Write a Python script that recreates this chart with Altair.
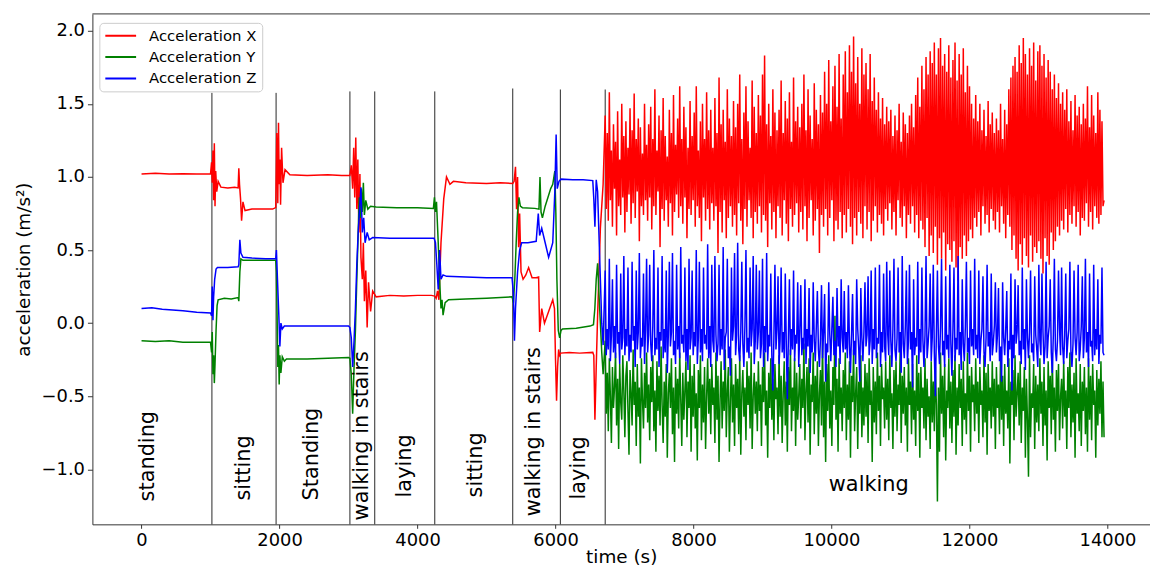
import altair as alt
import pandas as pd

series_names = ["Acceleration X", "Acceleration Y", "Acceleration Z"]
series_colors = ["#ff0000", "#008000", "#0000ff"]

# resting / transition part of the recording: (time s, acceleration m/s^2)
x_static = [
    (0, 1.02), (200, 1.025), (400, 1.02), (600, 1.022), (800, 1.02), (1000, 1.02),
    (1015, 1.10), (1025, 0.96), (1035, 1.18), (1045, 0.84), (1055, 1.23), (1065, 0.80),
    (1075, 1.04), (1090, 0.90), (1110, 0.97), (1150, 0.93), (1250, 0.925), (1350, 0.93),
    (1400, 0.925), (1410, 1.06), (1420, 0.95), (1435, 0.85), (1450, 0.70), (1470, 0.83),
    (1500, 0.77), (1600, 0.78), (1750, 0.78), (1900, 0.78), (1945, 0.79), (1960, 1.30),
    (1975, 0.82), (1985, 1.37), (1995, 0.95), (2005, 1.12), (2015, 0.81), (2030, 1.20),
    (2050, 0.96), (2080, 1.05), (2150, 1.015), (2400, 1.01), (2700, 1.015), (2900, 1.01),
    (3020, 1.01), (3040, 1.08), (3060, 0.92), (3075, 1.20), (3090, 0.86), (3105, 1.27),
    (3120, 0.78), (3135, 1.12), (3150, 0.62), (3165, 1.02), (3180, 0.45), (3200, 0.30),
    (3215, 0.55), (3230, 0.15), (3250, 0.36), (3270, -0.03), (3290, 0.28), (3320, 0.08),
    (3350, 0.22), (3400, 0.18), (3600, 0.19), (3800, 0.185), (4000, 0.19), (4200, 0.19),
    (4250, 0.185), (4270, 0.17), (4290, 0.22), (4310, 0.16), (4340, 0.55), (4380, 0.85),
    (4420, 1.00), (4470, 0.95), (4520, 0.97), (4700, 0.96), (5000, 0.955), (5200, 0.96),
    (5380, 0.955), (5400, 0.97), (5420, 1.07), (5435, 0.78), (5450, 1.00), (5465, 0.52),
    (5480, 0.75), (5500, 0.35), (5530, 0.30), (5570, 0.33), (5610, 0.38), (5660, 0.31),
    (5720, 0.31), (5755, 0.315), (5770, -0.06), (5800, 0.10), (5840, 0.00), (5900, 0.08),
    (5960, 0.16), (5985, 0.10), (6000, -0.25), (6015, -0.53), (6030, -0.30), (6045, -0.18),
    (6060, -0.22), (6075, -0.205), (6200, -0.20), (6350, -0.205), (6540, -0.20),
    (6555, -0.22), (6571, -0.66), (6590, -0.30), (6610, 0.05), (6630, 0.35), (6650, 0.65),
    (6670, 0.80), (6690, 0.95),
]
y_static = [
    (0, -0.12), (200, -0.125), (400, -0.12), (500, -0.125), (600, -0.13), (800, -0.13),
    (1000, -0.13), (1015, -0.20), (1025, -0.06), (1035, -0.35), (1045, -0.22), (1055, -0.41),
    (1065, -0.28), (1080, -0.05), (1095, 0.12), (1110, 0.16), (1200, 0.17), (1300, 0.165),
    (1400, 0.175), (1410, 0.15), (1425, 0.35), (1440, 0.44), (1470, 0.43), (1600, 0.43),
    (1800, 0.43), (1945, 0.43), (1955, 0.35), (1965, 0.05), (1975, -0.30), (1985, -0.15),
    (1995, -0.42), (2005, -0.22), (2020, -0.34), (2040, -0.23), (2070, -0.26), (2100, -0.245),
    (2400, -0.245), (2700, -0.24), (3000, -0.235), (3020, -0.24), (3040, -0.35), (3060, -0.62),
    (3080, -0.30), (3100, -0.05), (3120, 0.30), (3140, 0.62), (3155, 0.86), (3170, 0.72),
    (3185, 0.92), (3200, 0.76), (3215, 0.96), (3230, 0.74), (3250, 0.84), (3280, 0.78),
    (3320, 0.80), (3400, 0.795), (3700, 0.79), (4000, 0.79), (4230, 0.785), (4245, 0.86),
    (4260, 0.76), (4275, 0.83), (4300, 0.55), (4320, 0.30), (4340, 0.10), (4355, 0.16),
    (4370, 0.055), (4400, 0.14), (4450, 0.16), (4700, 0.165), (5000, 0.17), (5370, 0.18),
    (5390, 0.14), (5410, 0.30), (5430, 0.55), (5450, 0.76), (5470, 0.86), (5490, 0.80),
    (5520, 0.79), (5700, 0.785), (5760, 0.78), (5775, 1.00), (5790, 0.76), (5810, 0.72),
    (5850, 0.80), (5890, 0.86), (5930, 0.92), (5960, 0.95), (5990, 1.04), (6005, 0.75),
    (6020, 0.30), (6040, -0.05), (6060, -0.10), (6080, -0.05), (6100, -0.04), (6300, -0.035),
    (6500, -0.02), (6550, -0.01), (6570, 0.10), (6590, 0.30), (6610, 0.41), (6630, 0.20),
    (6650, 0.00), (6670, -0.20), (6690, -0.35),
]
z_static = [
    (0, 0.10), (150, 0.105), (300, 0.095), (450, 0.09), (600, 0.085), (800, 0.075),
    (1000, 0.07), (1015, 0.05), (1025, 0.25), (1035, 0.02), (1045, 0.18), (1060, 0.30),
    (1080, 0.37), (1100, 0.38), (1250, 0.38), (1400, 0.385), (1410, 0.40), (1425, 0.57),
    (1440, 0.48), (1470, 0.45), (1600, 0.445), (1800, 0.44), (1945, 0.44), (1955, 0.50),
    (1970, 0.30), (1990, 0.05), (2005, -0.16), (2020, 0.00), (2040, -0.04), (2070, -0.02),
    (2400, -0.02), (2700, -0.02), (3000, -0.02), (3020, -0.03), (3040, -0.10), (3060, -0.30),
    (3080, -0.12), (3100, 0.10), (3120, 0.40), (3140, 0.62), (3160, 0.78), (3180, 0.93),
    (3200, 0.62), (3220, 0.72), (3240, 0.55), (3270, 0.62), (3300, 0.57), (3350, 0.585),
    (3600, 0.58), (4000, 0.58), (4240, 0.58), (4260, 0.55), (4280, 0.40), (4300, 0.23),
    (4320, 0.50), (4340, 0.30), (4370, 0.33), (4420, 0.32), (4700, 0.315), (5000, 0.31),
    (5370, 0.31), (5390, 0.20), (5405, -0.12), (5420, 0.10), (5450, 0.35), (5480, 0.50),
    (5510, 0.55), (5600, 0.55), (5720, 0.56), (5750, 0.75), (5770, 0.60), (5800, 0.65),
    (5850, 0.55), (5900, 0.45), (5960, 0.55), (5990, 0.90), (6009, 1.29), (6025, 0.92),
    (6050, 0.97), (6080, 0.985), (6250, 0.98), (6400, 0.98), (6540, 0.975), (6555, 0.85),
    (6571, 0.66), (6590, 0.98), (6610, 0.90), (6630, 0.60), (6650, 0.30), (6670, 0.00),
    (6690, -0.15),
]

# walking part: one reading every 15 s from 6720 s, values in hundredths of m/s^2
walk_start = 6720
walk_step = 15
walk_x_c = [
    142, 78, 130, 70, 158, 84, 118, 66, 136, 92, 124, 60, 145, 80, 112, 74, 150, 86, 128, 62, 138,
    76, 120, 88, 147, 68, 132, 82, 157, 72, 126, 90, 140, 56, 134, 80, 116, 74, 150, 84, 122, 70,
    136, 86, 148, 64, 126, 80, 160, 74, 118, 90, 142, 52, 132, 78, 154, 70, 128, 84, 114, 66, 146,
    82, 130, 60, 156, 76, 122, 88, 140, 72, 162, 80, 126, 68, 148, 86, 134, 58, 120, 78, 152, 74,
    128, 84, 144, 66, 162, 80, 118, 72, 138, 56, 150, 86, 126, 70, 158, 78, 132, 64, 146, 82, 120,
    70, 154, 80, 130, 48, 168, 76, 136, 62, 146, 84, 124, 58, 160, 72, 140, 80, 128, 66, 152, 74,
    134, 60, 150, 82, 170, 70, 126, 54, 144, 78, 162, 66, 138, 84, 120, 72, 166, 58, 148, 76, 130,
    68, 156, 80, 142, 62, 170, 74, 183, 70, 136, 52, 150, 82, 128, 64, 160, 76, 144, 58, 132, 80,
    146, 72, 166, 60, 130, 84, 152, 68, 140, 56, 158, 78, 124, 66, 168, 74, 138, 82, 148, 62, 134,
    76, 150, 64, 170, 80, 132, 56, 160, 72, 142, 84, 126, 60, 164, 70, 146, 78, 136, 48, 156, 74,
    144, 66, 172, 78, 150, 60, 180, 72, 138, 84, 162, 56, 176, 70, 148, 64, 184, 76, 140, 58, 170,
    74, 186, 62, 158, 78, 190, 66, 172, 54, 196, 72, 164, 60, 182, 76, 150, 68, 188, 58, 170, 80,
    178, 64, 160, 76, 184, 56, 152, 70, 168, 80, 146, 62, 158, 74, 140, 68, 154, 60, 136, 78, 148,
    70, 138, 82, 146, 64, 128, 76, 142, 60, 132, 84, 150, 72, 124, 66, 144, 80, 136, 58, 130, 74,
    142, 68, 150, 80, 134, 62, 156, 74, 168, 58, 148, 70, 176, 64, 160, 52, 182, 72, 170, 46, 186,
    60, 178, 48, 192, 66, 170, 40, 188, 58, 195, 44, 176, 62, 184, 36, 172, 54, 190, 50, 168, 42,
    180, 56, 192, 38, 166, 29, 184, 52, 170, 44, 188, 60, 158, 46, 176, 56, 162, 64, 150, 58, 140,
    72, 156, 66, 138, 76, 150, 60, 132, 80, 146, 68, 128, 74, 152, 62, 136, 78, 144, 70, 130, 64,
    140, 76, 132, 62, 150, 80, 126, 68, 146, 58, 136, 74, 160, 66, 168, 50, 176, 60, 182, 44, 172,
    36, 190, 54, 178, 40, 195, 58, 184, 46, 170, 38, 188, 60, 176, 42, 192, 52, 166, 48, 186, 56,
    190, 44, 176, 34, 184, 58, 168, 46, 180, 40, 172, 62, 160, 50, 170, 56, 154, 66, 164, 60, 150,
    70, 158, 64, 146, 78, 160, 62, 138, 74, 152, 68, 132, 80, 156, 66, 142, 76, 148, 60, 136, 72,
    150, 70, 140, 82, 162, 66, 134, 76, 156, 64, 142, 80, 130, 72, 158, 68, 146, 74, 138, 80, 84,
]
walk_y_c = [
    -12, -62, -34, -74, -24, -50, -82, -30, -58, -44, -20, -70, -38, -86, -28, -54, -66, -22, -46, -78, -36,
    -26, -60, -90, -32, -48, -70, -18, -56, -40, -84, -28, -64, -44, -96, -24, -52, -72, -34, -58, -20, -68,
    -42, -80, -30, -54, -22, -74, -46, -88, -26, -60, -36, -70, -16, -56, -82, -40, -64, -28, -92, -48, -34,
    -58, -24, -76, -44, -95, -30, -62, -38, -72, -20, -52, -84, -34, -66, -46, -26, -78, -40, -58, -22, -88,
    -36, -64, -28, -72, -48, -94, -32, -58, -22, -80, -42, -68, -30, -86, -50, -24, -62, -38, -76, -28, -56,
    -44, -82, -20, -66, -36, -95, -52, -26, -72, -40, -60, -18, -78, -46, -30, -88, -54, -24, -68, -42, -84,
    -28, -58, -38, -76, -22, -90, -48, -32, -64, -44, -80, -26, -56, -36, -72, -20, -86, -50, -34, -62, -40,
    -74, -26, -60, -42, -84, -30, -54, -20, -70, -46, -92, -34, -58, -24, -66, -38, -80, -28, -52, -44, -76,
    -22, -64, -36, -82, -48, -26, -70, -40, -88, -30, -56, -18, -74, -44, -60, -24, -84, -34, -66, -50, -28,
    -72, -38, -58, -14, -80, -46, -30, -68, -24, -90, -42, -54, -20, -76, -36, -62, -26, -84, -48, -32, -70,
    -10, -78, -40, -95, -28, -60, -22, -72, -46, -84, -30, -56, 5, -66, -38, -88, -24, -62, -44, -74, -32,
    -58, -20, -80, -42, -66, -26, -92, -36, -54, -18, -74, -48, -30, -86, -40, -62, -22, -78, -44, -70, -28,
    -64, -34, -82, -24, -56, -46, -95, -30, -68, -40, -76, -20, -60, -36, -84, -28, -52, -44, -72, -26, -66,
    -38, -80, -22, -58, -48, -86, -32, -64, -26, -74, -42, -56, -18, -82, -36, -62, -30, -70, -44, -88, -24,
    -56, -40, -76, -28, -66, -46, -84, -22, -60, -34, -92, -30, -58, -44, -72, -24, -80, -38, -64, -50, -86,
    -26, -68, -40, -74, -30, -56, -122, -44, -88, -20, -62, -36, -78, -28, -94, -46, -58, -24, -72, -40, -82,
    -32, -64, -22, -90, -44, -70, -28, -58, -38, -84, -26, -66, -48, -76, -20, -60, -36, -88, -30, -54, -42,
    -74, -24, -62, -40, -82, -30, -56, -46, -78, -22, -68, -34, -90, -28, -60, -44, -72, -26, -64, -38, -86,
    -30, -58, -42, -76, -20, -66, -36, -84, -28, -62, -46, -72, -24, -96, -40, -56, -32, -80, -22, -64, -48,
    -34, -70, -26, -82, -44, -60, -30, -92, -38, -66, -105, -22, -78, -48, -58, -28, -86, -36, -68, -42, -74,
    -24, -62, -40, -84, -30, -70, -46, -94, -26, -58, -36, -76, -22, -66, -44, -88, -32, -60, -28, -80, -50,
    -38, -72, -26, -64, -46, -86, -30, -58, -20, -78, -42, -68, -34, -92, -24, -62, -48, -74, -28, -84, -40,
    -60, -30, -76, -44, -88, -24, -66, -36, -80, -28, -56, -46, -92, -32, -70, -38, -62, -26, -78, -40, -78,
]
walk_z_c = [
    36, -22, -4, -18, 44, -26, -8, 30, -20, -2, -24, 40, -14, -6, -28, 34, -18, -10, 46, -22, -4,
    -16, 38, -26, -8, -20, 42, -12, -2, -30, 36, -18, -6, 48, -24, -10, -16, 34, -28, -4, 44, -20,
    -8, 40, -14, -26, -2, 50, -22, -10, -18, 38, -30, -6, -12, 46, -24, -4, -20, 36, -34, -8, 42,
    -16, -6, 48, -22, -12, -28, 40, -18, -2, -24, 52, -14, -8, -20, 38, -26, -4, -32, 44, -18, -10,
    36, -22, -6, -16, 50, -28, -10, 42, -20, -4, -26, 38, -14, -8, -18, 54, -24, -2, -30, 40, -12,
    -20, 46, -8, -26, -14, 40, -22, -4, -18, 52, -32, -10, -6, 44, -24, -16, -36, 38, -12, -2, 48,
    -22, -8, 55, -18, -26, -6, 42, -14, -30, -2, 50, -20, -10, -24, 38, -16, -4, 46, -28, -12, 40,
    -18, -6, 36, -24, -14, 44, -30, -2, -20, 48, -26, -8, -16, 34, -22, -46, -10, 40, -18, -4, 32,
    -28, -12, 38, -20, -6, -24, 34, -16, -52, -10, 30, -22, -4, -18, 36, -26, -8, -14, 28, -30, -6,
    26, -22, -10, -18, 30, -28, -4, -16, 24, -34, -8, -20, 28, -12, -26, -2, 22, -18, -30, -10, 26,
    -24, -6, 20, -40, -14, -20, 28, -8, -26, -4, 18, -22, -12, -30, 24, -16, -2, -28, 30, -10, -20,
    22, -18, -6, -24, 26, -14, -34, -8, 20, -22, -12, -28, 30, -4, -18, -40, 24, -10, -26, -6, 28,
    -16, -8, 32, -22, -12, 36, -28, -4, -18, 38, -24, -10, -14, 40, -30, -6, -20, 34, -16, -26, 42,
    -8, -22, 36, -12, -30, -4, 44, -18, -26, -10, 38, -20, -6, -34, 46, -14, -24, -2, 36, -28, -12,
    40, -18, -6, -44, 30, -22, -10, -16, 42, -28, -4, -20, 38, -12, -30, -8, 46, -24, -14, -2, 34,
    -26, -10, 40, -20, -50, -6, 36, -16, -28, -2, 44, -22, -12, -30, 32, -18, -8, -24, 40, -14, -36,
    -4, 38, -26, -10, -18, 46, -22, -6, -32, 30, -14, -26, -2, 42, -20, -10, -28, 36, -16, -4, -22,
    44, -18, -8, -24, 36, -28, -12, -4, 32, -20, -30, -10, 40, -16, -6, -26, 34, -22, -14, -2, 28,
    -20, -8, 24, -26, -16, -40, 28, -10, -22, -4, 22, -30, -12, -18, 34, -46, -8, -24, 30, -14, -6,
    26, -22, -12, -28, 38, -18, -4, -32, 30, -10, -24, -6, 36, -20, -14, -26, 32, -8, -18, -30, 40,
    -12, -22, 34, -6, -28, -16, 42, -24, -10, -2, 30, -20, -34, -8, 44, -18, -26, -12, 36, -4, -22,
    38, -16, -28, -8, 34, -24, -12, -4, 42, -20, -30, -14, 36, -10, -22, -6, 40, -26, -18, -2, 32,
    -24, -10, 44, -20, -6, -30, 34, -16, -12, -26, 40, -22, -4, -18, 30, -28, -8, -14, 38, -20, -22,
]

# activity boundaries (s) and the height each marker line reaches
bounds = [1020, 1950, 3020, 3380, 4250, 5380, 6070, 6720]
bound_tops = [1.575, 1.575, 1.585, 1.585, 1.585, 1.605, 1.598, 1.598]

activity_labels = ["standing", "sitting", "Standing", "walking in stairs",
                   "laying", "sitting", "walking in stairs", "laying"]
activity_t = [94, 1490, 2468, 3189, 3821, 4843, 5692, 6340]
activity_y = [-1.219, -1.213, -1.213, -1.349, -1.192, -1.192, -1.321, -1.206]
walk_label = ["walking"]
walk_label_t = [10540]
walk_label_y = [-1.104]

x_domain = [-712, 14616]
y_domain = [-1.376, 2.115]
x_ticks = [0, 2000, 4000, 6000, 8000, 10000, 12000, 14000]
y_ticks = [-1.0, -0.5, 0.0, 0.5, 1.0, 1.5, 2.0]

FONT = "DejaVu Sans"

rows = []
for name, static, walk in zip(series_names, [x_static, y_static, z_static],
                              [walk_x_c, walk_y_c, walk_z_c]):
    for t, v in static:
        rows.append({"series": name, "t": t, "v": v})
    for i, c in enumerate(walk):
        rows.append({"series": name, "t": walk_start + i * walk_step, "v": c / 100.0})
df = pd.DataFrame(rows)

bounds_df = pd.DataFrame({"t": bounds, "top": bound_tops,
                          "bottom": [y_domain[0]] * len(bounds)})
labels_df = pd.DataFrame({"label": activity_labels, "t": activity_t, "y": activity_y})
walk_df = pd.DataFrame({"label": walk_label, "t": walk_label_t, "y": walk_label_y})
frame_df = pd.DataFrame({"x0": [x_domain[0]], "x1": [x_domain[1]], "y": [y_domain[1]]})

xscale = alt.Scale(domain=x_domain, nice=False, zero=False)
yscale = alt.Scale(domain=y_domain, nice=False, zero=False)

x_axis = alt.Axis(values=x_ticks, format="d", title="time (s)", labelFontSize=18,
                  titleFontSize=18.5, tickSize=4, labelPadding=3, titlePadding=-2,
                  labelFlush=False, labelOverlap=False)
y_axis = alt.Axis(values=y_ticks, format=".1f", title="acceleration (m/s²)",
                  labelFontSize=18, titleFontSize=18.5, tickSize=5, labelPadding=3,
                  titlePadding=8, labelFlush=False)

color = alt.Color(
    "series:N",
    scale=alt.Scale(domain=series_names, range=series_colors),
    legend=alt.Legend(
        orient="none", legendX=7, legendY=9, title=None,
        symbolType="stroke", symbolSize=961, symbolStrokeWidth=2,
        clipHeight=16, rowPadding=5.5,
        labelFontSize=15, labelFont=FONT, labelColor="black", labelOffset=12,
        fillColor="white", strokeColor="#cccccc", cornerRadius=4, padding=5,
    ),
)

rules = alt.Chart(bounds_df).mark_rule(color="black", strokeWidth=1, opacity=0.85).encode(
    x=alt.X("t:Q", scale=xscale, axis=x_axis),
    y=alt.Y("top:Q", scale=yscale, axis=y_axis),
    y2="bottom:Q",
)

# top spine of the frame
frame_top = alt.Chart(frame_df).mark_rule(color="#333333", strokeWidth=1).encode(
    x=alt.X("x0:Q", scale=xscale, axis=x_axis),
    x2="x1:Q",
    y=alt.Y("y:Q", scale=yscale, axis=y_axis),
)

layers = [rules, frame_top]
for name in series_names:
    layers.append(
        alt.Chart(df[df["series"] == name]).mark_line(strokeWidth=1.5).encode(
            x=alt.X("t:Q", scale=xscale, axis=x_axis),
            y=alt.Y("v:Q", scale=yscale, axis=y_axis),
            color=color,
        )
    )

texts = alt.Chart(labels_df).mark_text(
    angle=270, align="left", baseline="middle", fontSize=21, font=FONT, color="black"
).encode(
    x=alt.X("t:Q", scale=xscale, axis=x_axis),
    y=alt.Y("y:Q", scale=yscale, axis=y_axis),
    text="label:N",
)
walk_text = alt.Chart(walk_df).mark_text(
    align="center", baseline="middle", fontSize=21, font=FONT, color="black"
).encode(
    x=alt.X("t:Q", scale=xscale, axis=x_axis),
    y=alt.Y("y:Q", scale=yscale, axis=y_axis),
    text="label:N",
)
layers += [texts, walk_text]

chart = alt.layer(*layers).properties(
    width=1065, height=514,
    autosize=alt.AutoSizeParams(type="none"),
    padding={"left": 85, "top": 4, "right": 0, "bottom": 41},
).configure_view(stroke=None).configure_axis(
    labelFont=FONT, titleFont=FONT, labelColor="black", titleColor="black",
    titleFontWeight="normal", domainColor="#333333", tickColor="#333333",
    domainWidth=1, tickWidth=1, grid=False,
)

chart.save("out.html", embed_options={"renderer": "svg", "actions": False})
